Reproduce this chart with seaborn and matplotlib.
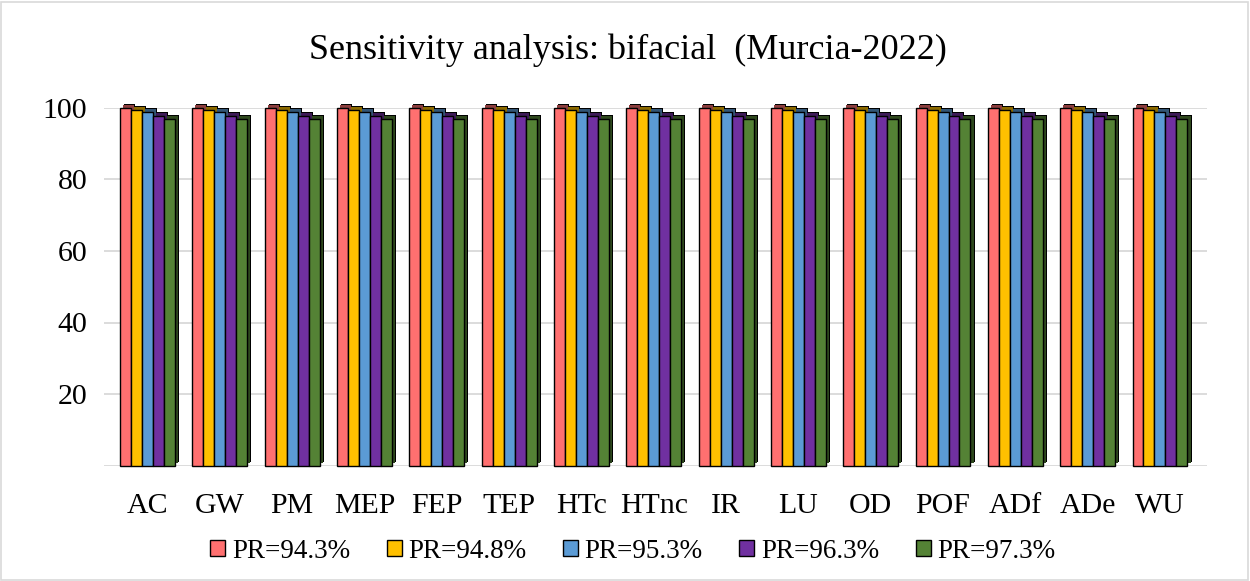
import matplotlib
matplotlib.use("Agg")
import matplotlib.pyplot as plt
import matplotlib.patheffects as pe
from matplotlib.colors import to_rgb
from matplotlib.patches import Rectangle, Patch
import seaborn as sns
import pandas as pd

categories = ["AC", "GW", "PM", "MEP", "FEP", "TEP", "HTc", "HTnc", "IR", "LU",
              "OD", "POF", "ADf", "ADe", "WU"]
series_names = ["PR=94.3%", "PR=94.8%", "PR=95.3%", "PR=96.3%", "PR=97.3%"]
pr_943 = [100.0, 100.0, 100.0, 100.0, 100.0, 100.0, 100.0, 100.0, 100.0, 100.0, 100.0, 100.0, 100.0, 100.0, 100.0]
pr_948 = [99.5, 99.5, 99.5, 99.5, 99.5, 99.5, 99.5, 99.5, 99.5, 99.5, 99.5, 99.5, 99.5, 99.5, 99.5]
pr_953 = [98.9, 98.9, 98.9, 98.9, 98.9, 98.9, 98.9, 98.9, 98.9, 98.9, 98.9, 98.9, 98.9, 98.9, 98.9]
pr_963 = [97.9, 97.9, 97.9, 97.9, 97.9, 97.9, 97.9, 97.9, 97.9, 97.9, 97.9, 97.9, 97.9, 97.9, 97.9]
pr_973 = [96.9, 96.9, 96.9, 96.9, 96.9, 96.9, 96.9, 96.9, 96.9, 96.9, 96.9, 96.9, 96.9, 96.9, 96.9]
y_ticks = [0, 20, 40, 60, 80, 100]
y_ticklabels = ["", "20", "40", "60", "80", "100"]

colors = ["#FF7070", "#FFC000", "#5B9BD5", "#7030A0", "#548235"]

rows = []
for name, vals in zip(series_names, [pr_943, pr_948, pr_953, pr_963, pr_973]):
    for c, v in zip(categories, vals):
        rows.append({"cat": c, "series": name, "value": v})
df = pd.DataFrame(rows)

sns.set_theme(style="white")
plt.rcParams["font.family"] = ["Liberation Serif", "DejaVu Serif"]
plt.rcParams["text.color"] = "black"
plt.rcParams["xtick.color"] = "black"
plt.rcParams["ytick.color"] = "black"

fig = plt.figure(figsize=(12.5, 5.81), dpi=100)
ax = fig.add_axes([104 / 1250, 1 - 465.5 / 581, (1207 - 104) / 1250, (465.5 - 108) / 581])

sns.barplot(data=df, x="cat", y="value", hue="series", order=categories,
            hue_order=series_names, palette=colors, width=0.76, ax=ax,
            edgecolor="black", linewidth=1.0, saturation=1, legend=False, zorder=3)

# pseudo-3D depth for each bar
for cont, col in zip(ax.containers, colors):
    r, g, b = to_rgb(col)
    dark = (r * 0.55, g * 0.55, b * 0.55)
    for p in cont.patches:
        p.set_clip_on(False)
        p.set_path_effects([
            pe.SimplePatchShadow(offset=(3.0, 2.6), shadow_rgbFace=(0, 0, 0), alpha=1),
            pe.SimplePatchShadow(offset=(2.3, 2.0), shadow_rgbFace=dark, alpha=1),
            pe.Normal(),
        ])

ax.set_xlim(-0.6, 14.65)
ax.set_ylim(0, 100)
ax.set_yticks(y_ticks)
ax.set_yticklabels(y_ticklabels)
ax.yaxis.grid(True, color="#D9D9D9", linewidth=1.3, zorder=0)
ax.xaxis.grid(False)
for s in ax.spines.values():
    s.set_visible(False)
ax.tick_params(axis="y", length=0, pad=12, labelsize=21.5, labelcolor="black")
ax.tick_params(axis="x", length=0, pad=20, labelsize=21.5, labelcolor="black")
ax.set_xlabel("")
ax.set_ylabel("")

fig.suptitle("Sensitivity analysis: bifacial  (Murcia-2022)", fontsize=26, color="black",
             x=0.502, y=1 - 50 / 581, va="center")

handles = [Patch(facecolor=c, edgecolor="black", linewidth=1.0) for c in colors]
leg = fig.legend(handles, series_names, loc="center", bbox_to_anchor=(633 / 1250, 1 - 551 / 581),
                 ncol=5, frameon=False, fontsize=19.5, handlelength=0.55, handleheight=0.55,
                 handletextpad=0.25, columnspacing=1.35, borderaxespad=0)
for t in leg.get_texts():
    t.set_color("black")

fig.patches.append(Rectangle((0.001, 0.002), 0.997, 0.995, transform=fig.transFigure,
                             fill=False, edgecolor="#D9D9D9", linewidth=1.2))

fig.savefig("out.png", dpi=100)
